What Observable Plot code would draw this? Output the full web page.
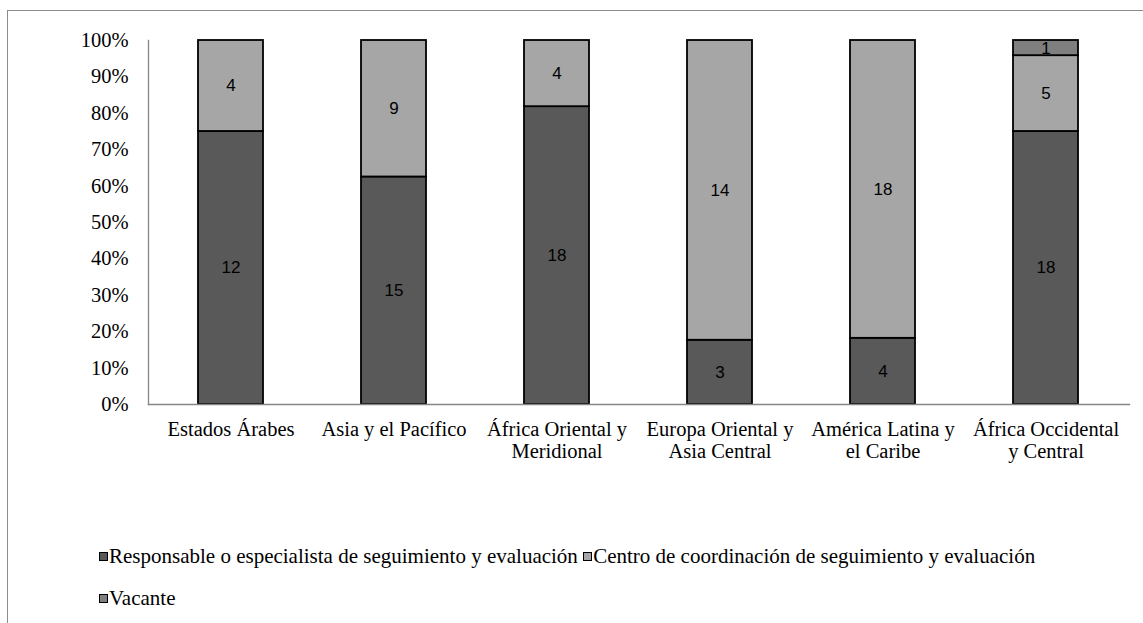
<!DOCTYPE html>
<html><head><meta charset="utf-8">
<script src="https://cdn.jsdelivr.net/npm/d3@7"></script>
<script src="https://cdn.jsdelivr.net/npm/@observablehq/plot@0.6"></script>
<style>
body{margin:0;background:#fff;}
#wrap{position:relative;width:1143px;height:623px;overflow:hidden;}
#border{position:absolute;left:7px;top:10px;width:1200px;height:700px;border-top:1.5px solid #8c8c8c;border-left:1.5px solid #8c8c8c;}
#chart{position:absolute;left:0;top:0;}
.leg{position:absolute;font-family:'Liberation Serif';font-size:21px;line-height:24px;color:#000;white-space:nowrap;}
.sw{display:inline-block;width:7px;height:7px;border:1px solid #000;margin-right:1px;vertical-align:2px;}
svg text{font-family:'Liberation Serif';}
svg g.bartext text{font-family:'Liberation Sans';}
</style></head>
<body><div id="wrap"><div id="border"></div><div id="chart"></div>
<div class="leg" style="left:99px;top:544px"><span class="sw" style="background:#595959"></span>Responsable o especialista de seguimiento y evaluación <span class="sw" style="background:#a6a6a6"></span>Centro de coordinación de seguimiento y evaluación</div>
<div class="leg" style="left:99px;top:586px"><span class="sw" style="background:#7f7f7f"></span>Vacante</div>
</div>
<script>
const regions = ["Estados Árabes","Asia y el Pacífico","África Oriental y\nMeridional","Europa Oriental y\nAsia Central","América Latina y\nel Caribe","África Occidental\ny Central"];
const series = ["Responsable o especialista de seguimiento y evaluación","Centro de coordinación de seguimiento y evaluación","Vacante"];
const responsable = [12,15,18,3,4,18];
const centro = [4,9,4,14,18,5];
const vacante = [0,0,0,0,0,1];
const colors = ["#595959","#a6a6a6","#7f7f7f"];
const yTicks = [0,0.1,0.2,0.3,0.4,0.5,0.6,0.7,0.8,0.9,1];

const rows = [];
regions.forEach((r,i)=>{
  [responsable,centro,vacante].forEach((arr,k)=>{
    if(arr[i]>0) rows.push({region:r, series:series[k], value:arr[i]});
  });
});

const plot = Plot.plot({
  width:1143, height:480,
  marginTop:40, marginBottom:76, marginLeft:148, marginRight:14,
  x:{domain:regions, paddingInner:0.6, paddingOuter:0.3, label:null},
  y:{domain:[0,1], label:null},
  color:{domain:series, range:colors},
  style:{background:"transparent", fontFamily:"Liberation Serif"},
  marks:[
    Plot.barY(rows, Plot.stackY({offset:"normalize", order:null}, {x:"region", y:"value", fill:"series", stroke:"#000", strokeWidth:1.8})),
    Plot.text(rows, Plot.stackY({offset:"normalize", order:null}, {x:"region", y:"value", text:"value", fontSize:17, className:"bartext", fill:"#000", fontWeight:d=>d.series==="Vacante"?"bold":"normal"})),
    Plot.frame({anchor:"left", stroke:"#868686", strokeWidth:1.3}),
    Plot.frame({anchor:"bottom", stroke:"#868686", strokeWidth:1.3}),
    Plot.axisY({ticks:yTicks, tickSize:0, tickPadding:20, tickFormat:d3.format(".0%"), fontSize:20.5, fill:"#000", label:null}),
    Plot.axisX({tickSize:0, tickPadding:16, fontSize:20.5, fill:"#000", label:null, lineHeight:1.06})
  ]
});
document.getElementById("chart").appendChild(plot);
</script></body></html>
